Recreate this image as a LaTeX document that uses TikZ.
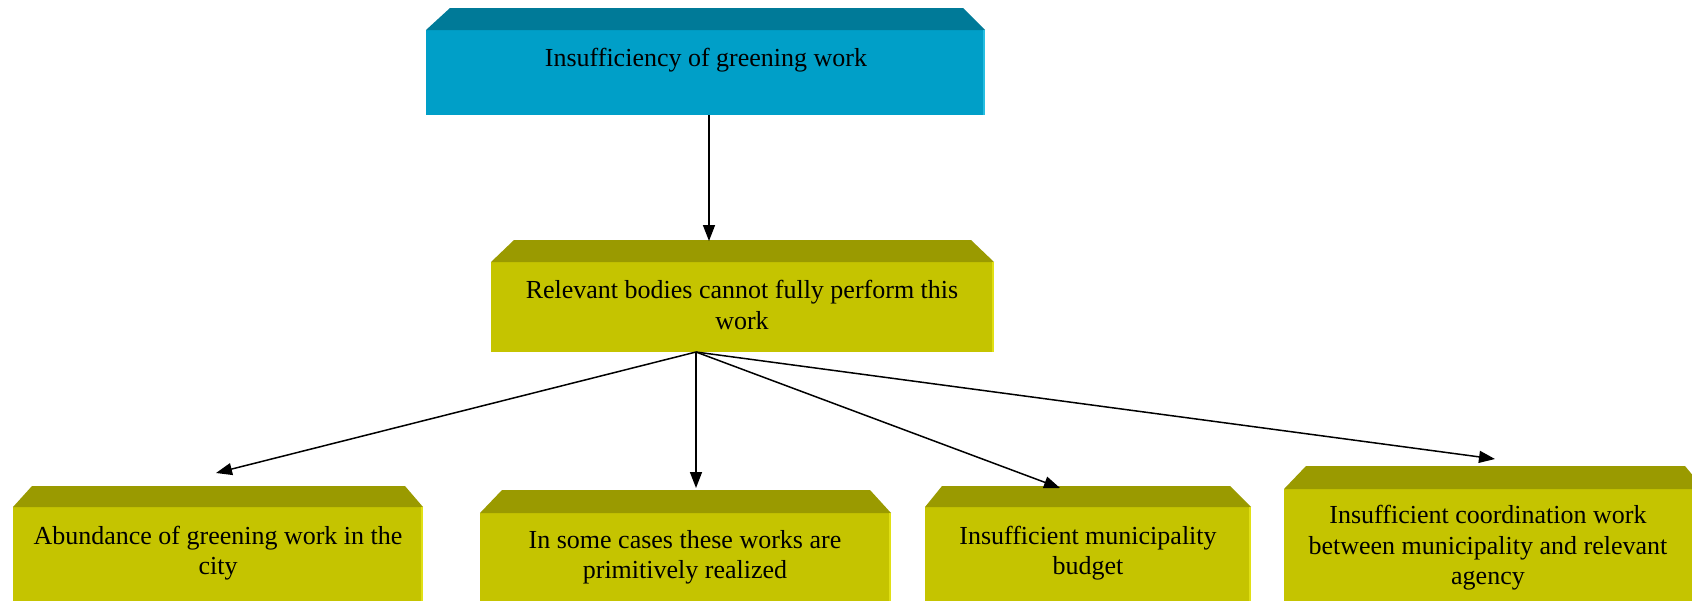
\documentclass[tikz,border=0pt]{standalone}
\usepackage{fontspec}
\setmainfont{Liberation Serif}
\usetikzlibrary{arrows.meta,calc}
\definecolor{bluefront}{RGB}{0,159,200}
\definecolor{bluetop}{RGB}{0,122,152}
\definecolor{olivefront}{RGB}{197,196,0}
\definecolor{olivetop}{RGB}{154,154,0}
\definecolor{oliveedge}{RGB}{225,224,20}
\definecolor{blueedge}{RGB}{40,190,225}
\tikzset{
  face/.style={inner sep=0pt, outer sep=0pt, anchor=north west},
  lbl/.style={font=\fontsize{13}{15.2}\selectfont, align=center, inner sep=0pt},
  conn/.style={line width=0.75pt, -{Triangle[length=8pt,width=6pt]}},
}
\begin{document}
\begin{tikzpicture}[x=0.5pt,y=-0.5pt]
\useasboundingbox (0,0) rectangle (1692,600);
% top box
\node[face, fill=bluefront, minimum width=279.5pt, minimum height=42.5pt] (top) at (426,30) {};
\fill[bluetop] (top.north west) -- ++(24,-22) -- ($(top.north east)+(-22,-22)$) -- (top.north east) -- cycle;
\fill[blueedge] ($(top.north east)+(-2,0)$) rectangle (top.south east);
\node[lbl] (toptxt) at (706,60) {Insufficiency of greening work};
% middle box
\node[face, fill=olivefront, minimum width=251.5pt, minimum height=45pt] (mid) at (491,262) {};
\fill[olivetop] (mid.north west) -- ++(23,-22) -- ($(mid.north east)+(-23,-22)$) -- (mid.north east) -- cycle;
\fill[oliveedge] ($(mid.north east)+(-2,0)$) rectangle (mid.south east);
\node[lbl] (midtxt) at (742,305) {Relevant bodies cannot fully perform this\\work};
% bottom boxes
\node[face, fill=olivefront, minimum width=205pt, minimum height=50pt] (b1) at (13,507) {};
\fill[olivetop] (b1.north west) -- ++(19,-21) -- ($(b1.north east)+(-18,-21)$) -- (b1.north east) -- cycle;
\fill[oliveedge] ($(b1.north east)+(-2,0)$) rectangle (b1.south east);
\node[lbl] (b1txt) at (218,553) {Abundance of greening work in the\\city};
\node[face, fill=olivefront, minimum width=205.5pt, minimum height=48pt] (b2) at (480,513) {};
\fill[olivetop] (b2.north west) -- ++(22,-23) -- ($(b2.north east)+(-21,-23)$) -- (b2.north east) -- cycle;
\fill[oliveedge] ($(b2.north east)+(-2,0)$) rectangle (b2.south east);
\node[lbl] (b2txt) at (685,557) {In some cases these works are\\primitively realized};
\node[face, fill=olivefront, minimum width=163pt, minimum height=50pt] (b3) at (925,507) {};
\fill[olivetop] (b3.north west) -- ++(17,-21) -- ($(b3.north east)+(-21,-21)$) -- (b3.north east) -- cycle;
\fill[oliveedge] ($(b3.north east)+(-2,0)$) rectangle (b3.south east);
\node[lbl] (b3txt) at (1088,553) {Insufficient municipality\\budget};
\node[face, fill=olivefront, minimum width=210pt, minimum height=60pt] (b4) at (1284,489) {};
\fill[olivetop] (b4.north west) -- ++(22,-23) -- ($(b4.north east)+(-19,-23)$) -- (b4.north east) -- cycle;
\node[lbl] (b4txt) at (1488,548) {Insufficient coordination work\\between municipality and relevant\\agency};
% connectors
\coordinate (topout) at (709,115);
\coordinate (midin) at (709,241);
\coordinate (midout) at (696,352);
\coordinate (t1) at (216,473);
\coordinate (t2) at (696,488);
\coordinate (t3) at (1060,488);
\coordinate (t4) at (1495,459);
\draw[conn] (topout) -- (midin);
\draw[conn] (midout) -- (t1);
\draw[conn] (midout) -- (t2);
\draw[conn] (midout) -- (t3);
\draw[conn] (midout) -- (t4);
\end{tikzpicture}
\end{document}
